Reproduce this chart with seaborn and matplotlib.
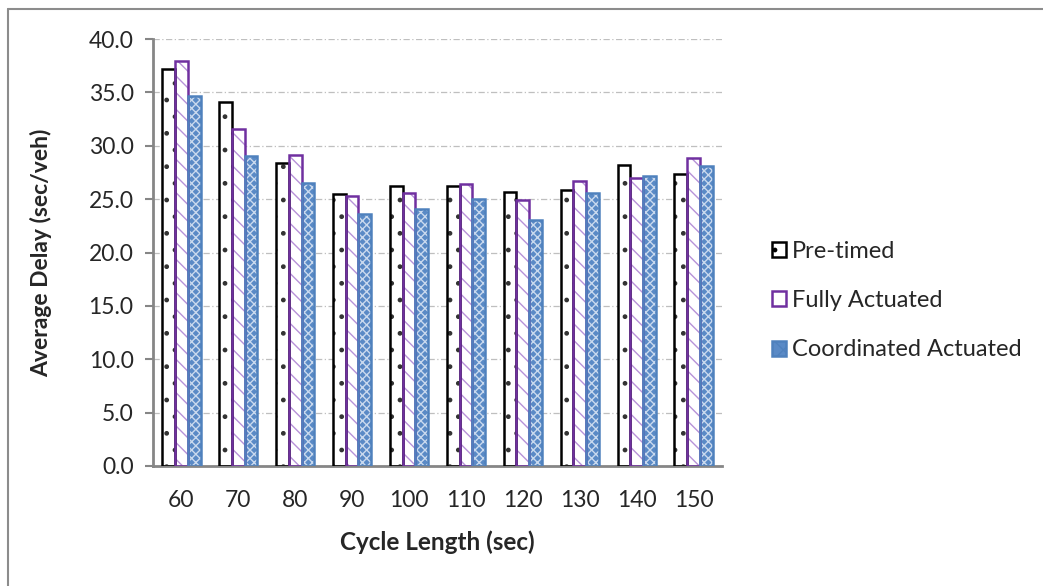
import matplotlib
matplotlib.use("Agg")
import matplotlib.pyplot as plt
from matplotlib.patches import Rectangle
from matplotlib.lines import Line2D
import seaborn as sns
import pandas as pd

# Average delay by cycle length for three signal control strategies
cycle_lengths = [60, 70, 80, 90, 100, 110, 120, 130, 140, 150]
pre_timed = [37.2, 34.1, 28.4, 25.5, 26.2, 26.2, 25.7, 25.9, 28.2, 27.4]
fully_actuated = [37.9, 31.6, 29.1, 25.3, 25.6, 26.4, 24.9, 26.7, 27.0, 28.9]
coordinated_actuated = [34.7, 29.0, 26.5, 23.6, 24.1, 25.0, 23.0, 25.6, 27.2, 28.1]
series_names = ["Pre-timed", "Fully Actuated", "Coordinated Actuated"]

df = pd.DataFrame({
    "cycle": [str(c) for c in cycle_lengths] * 3,
    "delay": pre_timed + fully_actuated + coordinated_actuated,
    "signal": [n for n in series_names for _ in cycle_lengths],
})

sns.set_theme(style="white")
plt.rcParams["font.family"] = ["Lato", "DejaVu Sans"]
plt.rcParams["hatch.linewidth"] = 1.0

fig = plt.figure(figsize=(10.43, 5.86), dpi=100)
ax = fig.add_axes([0.1467, 0.2048, 0.5455, 0.7286])

# fill, hatch colour (drawn as patch edge), outline colour, hatch pattern
styles = {
    "Pre-timed": ("white", "#333333", "black", "."),
    "Fully Actuated": ("white", "#B792D8", "#7030A0", "\\\\"),
    "Coordinated Actuated": ("#5A8AC6", "#C9D9EE", "#4F81BD", "xxxx"),
}

sns.barplot(data=df, x="cycle", y="delay", hue="signal", hue_order=series_names,
            palette=[styles[n][0] for n in series_names], width=0.67, gap=0,
            saturation=1, ax=ax, legend=False)

for container, name in zip(ax.containers, series_names):
    face, hcol, edge, hatch = styles[name]
    for bar in container:
        bar.set_facecolor(face)
        bar.set_edgecolor(hcol)
        bar.set_hatch(hatch)
        bar.set_linewidth(0)
        ax.add_patch(Rectangle(bar.get_xy(), bar.get_width(), bar.get_height(),
                               fill=False, edgecolor=edge, linewidth=1.8, zorder=3))

ax.set_ylim(0, 40)
ax.set_yticks(range(0, 41, 5))
ax.set_yticklabels([f"{v:.1f}" for v in range(0, 41, 5)], fontsize=16.5)
ax.tick_params(axis="x", labelsize=16.5, length=0, pad=17)
ax.tick_params(axis="y", length=6, width=1.5, color="#868686", direction="out",
               left=True, pad=8)
ax.set_axisbelow(True)
ax.yaxis.grid(True, color="#BFBFBF", linestyle=(0, (5, 2, 1, 2)), linewidth=0.9)
ax.xaxis.grid(False)

for side in ("top", "right"):
    ax.spines[side].set_visible(False)
for side in ("left", "bottom"):
    ax.spines[side].set_color("#868686")
    ax.spines[side].set_linewidth(2)

ax.set_xlabel("Cycle Length (sec)", fontsize=17.5, fontweight="bold", labelpad=14)
ax.set_ylabel("Average Delay (sec/veh)", fontsize=16.5, fontweight="bold", labelpad=26)

handles = []
for name in series_names:
    face, hcol, edge, hatch = styles[name]
    handles.append(Rectangle((0, 0), 1, 1, facecolor=face, edgecolor=edge,
                             hatch=hatch[:1], linewidth=1.8))
leg = fig.legend(handles, series_names, loc="center left",
                 bbox_to_anchor=(0.740, 0.487), frameon=False, fontsize=17,
                 handlelength=0.6, handleheight=0.6, handletextpad=0.25,
                 labelspacing=1.2, borderpad=0, borderaxespad=0)

# outer chart border (top and left)
fig.add_artist(Line2D([8 / 1043, 1.0], [1 - 9 / 586, 1 - 9 / 586],
                      color="#8C8C8C", linewidth=1.5, transform=fig.transFigure))
fig.add_artist(Line2D([8 / 1043, 8 / 1043], [0.0, 1 - 9 / 586],
                      color="#8C8C8C", linewidth=1.5, transform=fig.transFigure))

fig.savefig("out.png", dpi=100, facecolor="white")
